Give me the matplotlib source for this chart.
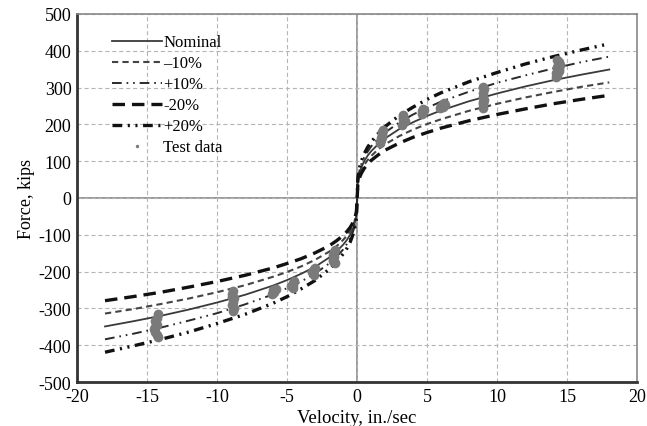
import numpy as np
import matplotlib
matplotlib.use("Agg")
import matplotlib.pyplot as plt

plt.rcParams['font.family'] = ['Liberation Serif', 'DejaVu Serif']
plt.rcParams['lines.scale_dashes'] = False
plt.rcParams['axes.unicode_minus'] = False

# Model curves
velocity = [-18, -16, -14, -12, -10, -8, -6, -5, -4, -3, -2, -1.5, -1, -0.75, -0.5, -0.3, -0.2, -0.1, -0.05,
            0, 0.05, 0.1, 0.2, 0.3, 0.5, 0.75, 1, 1.5, 2, 3, 4, 5, 6, 8, 10, 12, 14, 16, 18]
nominal = [-349, -335, -320, -303, -284, -263, -238, -223, -206, -187, -162, -146, -127, -115, -100, -83, -72, -57, -45,
           0, 45, 57, 72, 83, 100, 115, 127, 146, 162, 187, 206, 223, 238, 263, 284, 303, 320, 335, 349]
minus10 = [-314, -302, -288, -273, -256, -237, -214, -201, -186, -168, -146, -132, -114, -103, -90, -75, -65, -51, -40,
           0, 40, 51, 65, 75, 90, 103, 114, 132, 146, 168, 186, 201, 214, 237, 256, 273, 288, 302, 314]
plus10 = [-384, -369, -352, -333, -313, -289, -262, -245, -227, -205, -178, -161, -140, -126, -110, -92, -80, -62, -49,
          0, 49, 62, 80, 92, 110, 126, 140, 161, 178, 205, 227, 245, 262, 289, 313, 333, 352, 369, 384]
minus20 = [-279, -268, -256, -242, -227, -210, -190, -178, -165, -149, -130, -117, -102, -92, -80, -67, -58, -45, -36,
           0, 36, 45, 58, 67, 80, 92, 102, 117, 130, 149, 165, 178, 190, 210, 227, 242, 256, 268, 279]
plus20 = [-419, -402, -384, -364, -341, -316, -286, -268, -247, -224, -194, -175, -152, -138, -120, -100, -87, -68, -54,
          0, 54, 68, 87, 100, 120, 138, 152, 175, 194, 224, 247, 268, 286, 316, 341, 364, 384, 402, 419]

# Test data
test_v = [1.65, 1.7, 1.75, 1.8, 1.75, 1.85, 1.7, 1.8,
          3.2, 3.3, 3.35, 3.3, 3.25, 3.4, 3.3,
          4.6, 4.7, 4.8, 4.7, 4.65,
          5.9, 6.0, 6.1, 6.2, 6.3, 6.1,
          8.95, 9.0, 9.05, 9.0, 8.95, 9.05, 9.0, 9.0,
          14.2, 14.3, 14.4, 14.3, 14.5, 14.4, 14.3, 14.4, 14.2,
          -1.6, -1.65, -1.7, -1.75, -1.7, -1.6, -1.65,
          -3.0, -3.1, -3.15, -3.1, -3.2, -3.05,
          -4.5, -4.6, -4.7, -4.6, -4.55,
          -5.8, -5.9, -6.0, -6.1, -5.9, -6.0,
          -8.85, -8.9, -8.8, -8.85, -8.9, -8.8, -8.85, -8.9,
          -14.2, -14.3, -14.4, -14.3, -14.5, -14.4, -14.3, -14.2, -14.4]
test_f = [150, 158, 165, 172, 180, 186, 162, 176,
          198, 205, 212, 220, 225, 208, 215,
          228, 233, 238, 242, 236,
          245, 250, 255, 258, 252, 248,
          245, 255, 265, 275, 285, 295, 302, 260,
          328, 335, 345, 355, 362, 370, 375, 350, 340,
          -140, -148, -156, -165, -172, -178, -160,
          -190, -196, -202, -208, -200, -194,
          -225, -232, -240, -245, -236,
          -246, -252, -258, -262, -255, -250,
          -252, -262, -272, -282, -292, -300, -306, -268,
          -316, -325, -335, -345, -355, -365, -372, -378, -350]

fig = plt.figure(figsize=(6.47, 4.27), dpi=100)
ax = fig.add_axes([0.119, 0.103, 0.866, 0.862])

ax.plot(velocity, nominal, color='#3a3a3a', lw=1.3, ls='-', label='Nominal', zorder=3)
ax.plot(velocity, minus10, color='#444444', lw=1.5, ls=(0, (4.5, 3.0)), label='\u201310%', zorder=3)
ax.plot(velocity, plus10, color='#2a2a2a', lw=1.4, ls=(0, (7, 3.5, 1.2, 3.5, 1.2, 3.5)), label='+10%', zorder=3)
ax.plot(velocity, minus20, color='#111111', lw=2.4, ls=(0, (9, 5)), label='-20%', zorder=3)
ax.plot(velocity, plus20, color='#111111', lw=2.4, ls=(0, (7, 4, 1.5, 4, 1.5, 4)), label='+20%', zorder=3)
ax.plot(test_v, test_f, ls='none', marker='o', ms=7, color='#7a7a7a', mec='none', label='Test data', zorder=4)

ax.set_xlim(-20, 20)
ax.set_ylim(-500, 500)
ax.set_xticks(np.arange(-20, 21, 5))
ax.set_yticks(np.arange(-500, 501, 100))
ax.grid(True, color='#b5b5b5', lw=0.8, ls=(0, (3, 2)))
ax.axhline(0, color='#8a8a8a', lw=1.2, zorder=1)
ax.axvline(0, color='#8a8a8a', lw=1.2, zorder=1)
ax.tick_params(length=0, labelsize=13, pad=4)

for s in ['left', 'bottom']:
    ax.spines[s].set_color('#333333')
    ax.spines[s].set_linewidth(2.0)
for s in ['top', 'right']:
    ax.spines[s].set_color('#888888')
    ax.spines[s].set_linewidth(1.2)

ax.set_xlabel('Velocity, in./sec', fontsize=13.5, labelpad=3)
ax.set_ylabel('Force, kips', fontsize=13, labelpad=3)

leg = ax.legend(loc='upper left', bbox_to_anchor=(0.035, 0.985), frameon=False, fontsize=12,
                handlelength=3.0, handletextpad=0.1, labelspacing=0.3, markerscale=0.35)

fig.savefig('out.png', dpi=100)
